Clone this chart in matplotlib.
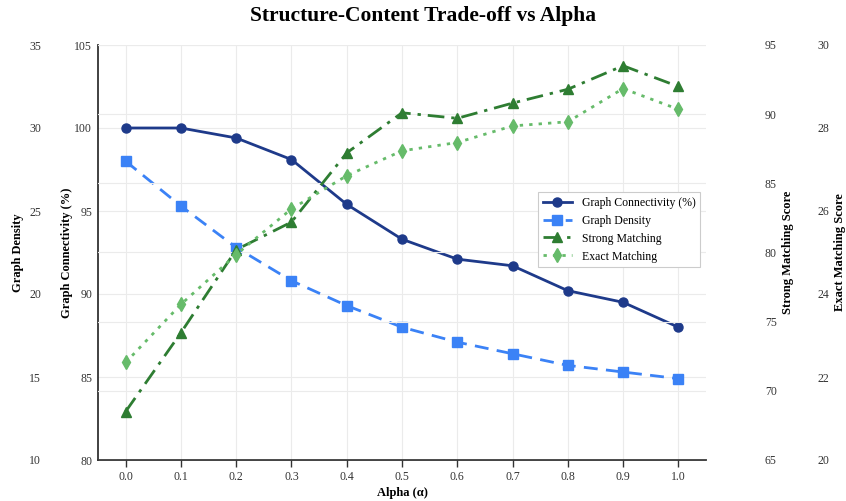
import matplotlib
matplotlib.use('Agg')
import matplotlib.pyplot as plt

alpha = [0.0, 0.1, 0.2, 0.3, 0.4, 0.5, 0.6, 0.7, 0.8, 0.9, 1.0]
connectivity = [100.0, 100.0, 99.4, 98.1, 95.4, 93.3, 92.1, 91.7, 90.2, 89.5, 88.0]
density = [28.0, 25.3, 22.8, 20.8, 19.3, 18.0, 17.1, 16.4, 15.7, 15.3, 14.9]
strong = [68.5, 74.2, 80.2, 82.2, 87.2, 90.1, 89.7, 90.8, 91.8, 93.5, 92.0]
exact = [22.35, 23.75, 24.95, 26.05, 26.85, 27.45, 27.65, 28.05, 28.15, 28.95, 28.45]

plt.rcParams['font.family'] = ['Liberation Serif', 'DejaVu Serif']

c_conn = '#1e3a8a'
c_dens = '#3b82f6'
c_strong = '#2e7d32'
c_exact = '#66bb6a'
grid_c = '#ebebeb'
tick_fs = 8.5
label_fs = 9
tick_c = '#333333'

fig = plt.figure(figsize=(8.46, 5.01), dpi=100)
ax = fig.add_axes([98/846, 41/501, 608/846, 415/501])
ax_d = ax.twinx()
ax_s = ax.twinx()
ax_e = ax.twinx()

l1, = ax.plot(alpha, connectivity, color=c_conn, lw=2, ls='-', marker='o', ms=6.5, label='Graph Connectivity (%)')
l2, = ax_d.plot(alpha, density, color=c_dens, lw=2, ls=(0, (5, 3)), marker='s', ms=6.5, label='Graph Density')
l3, = ax_s.plot(alpha, strong, color=c_strong, lw=2, ls=(0, (6, 2.5, 1.2, 2.5)), marker='^', ms=6.5, label='Strong Matching')
l4, = ax_e.plot(alpha, exact, color=c_exact, lw=2, ls=(0, (1.2, 2.2)), marker='d', ms=7, label='Exact Matching')

ax.set_xlim(-0.05, 1.05)
ax.set_xticks(alpha)
ax.set_xticklabels([f'{a:.1f}' for a in alpha])
ax.set_ylim(80, 105)
ax.set_yticks([80, 85, 90, 95, 100, 105])
ax_d.set_ylim(10, 35)
ax_d.set_yticks([10, 15, 20, 25, 30, 35])
ax_s.set_ylim(65, 95)
ax_s.set_yticks([65, 70, 75, 80, 85, 90, 95])
ax_e.set_ylim(20, 30)
ax_e.set_yticks([20, 22, 24, 26, 28, 30])

for a in (ax, ax_d, ax_s, ax_e):
    for s in a.spines.values():
        s.set_visible(False)
ax.spines['left'].set_visible(True)
ax.spines['bottom'].set_visible(True)
ax.spines['left'].set_color('#333333')
ax.spines['bottom'].set_color('#333333')
ax.spines['left'].set_linewidth(1.3)
ax.spines['bottom'].set_linewidth(1.3)

ax.tick_params(axis='x', length=5, width=1, color='#333333', labelsize=tick_fs, labelcolor=tick_c, pad=3)
ax.tick_params(axis='y', length=0, labelsize=tick_fs, labelcolor=tick_c, pad=4.3)

ax_d.yaxis.set_ticks_position('left')
ax_d.yaxis.set_label_position('left')
ax_d.spines['left'].set_position(('axes', -0.084))
ax_d.tick_params(axis='y', length=0, labelsize=tick_fs, labelcolor=tick_c, pad=4.3)

ax_s.spines['right'].set_position(('axes', 1.087))
ax_s.tick_params(axis='y', length=0, labelsize=tick_fs, labelcolor=tick_c, pad=4.3)
ax_e.spines['right'].set_position(('axes', 1.174))
ax_e.tick_params(axis='y', length=0, labelsize=tick_fs, labelcolor=tick_c, pad=4.3)

ax.grid(True, color=grid_c, lw=0.8)
ax_s.grid(True, axis='y', color=grid_c, lw=0.8)
ax.set_axisbelow(True)

ax.set_xlabel('Alpha (α)', fontsize=label_fs, fontweight='bold', labelpad=3)
ax.set_ylabel('Graph Connectivity (%)', fontsize=label_fs, fontweight='bold', labelpad=1)
ax_d.set_ylabel('Graph Density', fontsize=label_fs, fontweight='bold', labelpad=4)
ax_s.set_ylabel('Strong Matching Score', fontsize=label_fs, fontweight='bold', labelpad=3.5)
ax_e.set_ylabel('Exact Matching Score', fontsize=label_fs, fontweight='bold', labelpad=3)

fig.suptitle('Structure-Content Trade-off vs Alpha', fontsize=15.5, fontweight='bold', x=423/846, y=0.988)

leg = ax_e.legend(handles=[l1, l2, l3, l4], loc='center right', bbox_to_anchor=(1.0, 0.555),
                  fontsize=8.5, frameon=True, fancybox=False, edgecolor='#cccccc', framealpha=1,
                  handlelength=2.5)
leg.get_frame().set_linewidth(0.8)

fig.savefig('out.png', dpi=100)
